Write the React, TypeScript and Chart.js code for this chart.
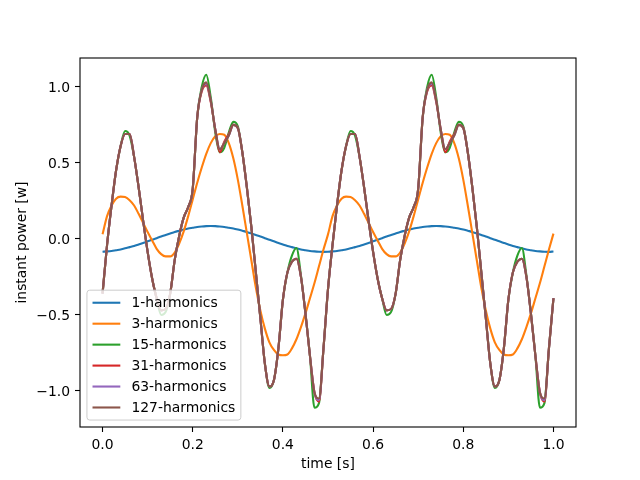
import { useEffect, useRef } from "react"
import { Chart, registerables } from "chart.js"

Chart.register(...registerables)

// sample times [s]
const time = [
  0.0, 0.01, 0.02, 0.03, 0.04, 0.05, 0.06, 0.07, 0.08, 0.09,
  0.1, 0.11, 0.12, 0.13, 0.14, 0.15, 0.16, 0.17, 0.18, 0.19,
  0.2, 0.21, 0.22, 0.23, 0.24, 0.25, 0.26, 0.27, 0.28, 0.29,
  0.3, 0.31, 0.32, 0.33, 0.34, 0.35, 0.36, 0.37, 0.38, 0.39,
  0.4, 0.41, 0.42, 0.43, 0.44, 0.45, 0.46, 0.47, 0.48, 0.49,
  0.5, 0.51, 0.52, 0.53, 0.54, 0.55, 0.56, 0.57, 0.58, 0.59,
  0.6, 0.61, 0.62, 0.63, 0.64, 0.65, 0.66, 0.67, 0.68, 0.69,
  0.7, 0.71, 0.72, 0.73, 0.74, 0.75, 0.76, 0.77, 0.78, 0.79,
  0.8, 0.81, 0.82, 0.83, 0.84, 0.85, 0.86, 0.87, 0.88, 0.89,
  0.9, 0.91, 0.92, 0.93, 0.94, 0.95, 0.96, 0.97, 0.98, 0.99,
  1.0,
]

const xTicks = [0.0, 0.2, 0.4, 0.6, 0.8, 1.0]
const yTicks = [-1.0, -0.5, 0.0, 0.5, 1.0]

const seriesLabels = ["1-harmonics", "3-harmonics", "15-harmonics", "31-harmonics", "63-harmonics", "127-harmonics"]

const harm1 = [
  -0.084, -0.082, -0.079, -0.074, -0.069, -0.062, -0.054, -0.046, -0.036, -0.026,
  -0.016, -0.005, 0.005, 0.016, 0.026, 0.036, 0.046, 0.054, 0.062, 0.069,
  0.074, 0.079, 0.082, 0.084, 0.085, 0.084, 0.082, 0.079, 0.074, 0.069,
  0.062, 0.054, 0.046, 0.036, 0.026, 0.016, 0.005, -0.005, -0.016, -0.026,
  -0.036, -0.046, -0.054, -0.062, -0.069, -0.074, -0.079, -0.082, -0.084, -0.085,
  -0.084, -0.082, -0.079, -0.074, -0.069, -0.062, -0.054, -0.046, -0.036, -0.026,
  -0.016, -0.005, 0.005, 0.016, 0.026, 0.036, 0.046, 0.054, 0.062, 0.069,
  0.074, 0.079, 0.082, 0.084, 0.085, 0.084, 0.082, 0.079, 0.074, 0.069,
  0.062, 0.054, 0.046, 0.036, 0.026, 0.016, 0.005, -0.005, -0.016, -0.026,
  -0.036, -0.046, -0.054, -0.062, -0.069, -0.074, -0.079, -0.082, -0.084, -0.085,
  -0.083,
]

const harm3 = [
  0.03, 0.15, 0.22, 0.265, 0.278, 0.275, 0.255, 0.22, 0.165, 0.105,
  0.045, -0.01, -0.065, -0.1, -0.115, -0.115, -0.09, -0.03, 0.05, 0.15,
  0.26, 0.37, 0.47, 0.56, 0.63, 0.675, 0.69, 0.685, 0.63, 0.53,
  0.39, 0.22, 0.04, -0.14, -0.32, -0.47, -0.59, -0.68, -0.73, -0.76,
  -0.765, -0.76, -0.72, -0.66, -0.58, -0.49, -0.39, -0.29, -0.18, -0.07,
  0.03, 0.15, 0.22, 0.265, 0.278, 0.275, 0.255, 0.22, 0.165, 0.105,
  0.045, -0.01, -0.065, -0.1, -0.115, -0.115, -0.09, -0.03, 0.05, 0.15,
  0.26, 0.37, 0.47, 0.56, 0.63, 0.675, 0.69, 0.685, 0.63, 0.53,
  0.39, 0.22, 0.04, -0.14, -0.32, -0.47, -0.59, -0.68, -0.73, -0.76,
  -0.765, -0.76, -0.72, -0.66, -0.58, -0.49, -0.39, -0.29, -0.18, -0.07,
  0.035,
]

const harm15 = [
  -0.36, -0.04, 0.22, 0.45, 0.61, 0.71, 0.68, 0.54, 0.34, 0.12,
  -0.085, -0.26, -0.39, -0.5, -0.48, -0.36, -0.14, 0.02, 0.14, 0.21,
  0.33, 0.8, 1.0, 1.08, 0.93, 0.7, 0.57, 0.6, 0.7, 0.77,
  0.74, 0.57, 0.34, 0.08, -0.22, -0.52, -0.82, -0.98, -0.93, -0.72,
  -0.4, -0.22, -0.11, -0.06, -0.24, -0.49, -0.77, -1.11, -1.08, -0.72,
  -0.33, -0.04, 0.22, 0.45, 0.61, 0.71, 0.68, 0.54, 0.34, 0.12,
  -0.085, -0.26, -0.39, -0.5, -0.48, -0.36, -0.14, 0.02, 0.14, 0.21,
  0.33, 0.8, 1.0, 1.08, 0.93, 0.7, 0.57, 0.6, 0.7, 0.77,
  0.74, 0.57, 0.34, 0.08, -0.22, -0.52, -0.82, -0.98, -0.93, -0.72,
  -0.4, -0.22, -0.11, -0.06, -0.24, -0.49, -0.77, -1.11, -1.08, -0.72,
  -0.39,
]

const harm31 = [
  -0.36, -0.04, 0.22, 0.45, 0.61, 0.69, 0.69, 0.54, 0.34, 0.12,
  -0.085, -0.26, -0.39, -0.47, -0.46, -0.36, -0.14, 0.02, 0.14, 0.21,
  0.33, 0.8, 0.97, 1.01, 0.9, 0.72, 0.57, 0.64, 0.69, 0.75,
  0.73, 0.57, 0.34, 0.08, -0.22, -0.52, -0.82, -0.97, -0.93, -0.72,
  -0.4, -0.22, -0.15, -0.13, -0.25, -0.49, -0.77, -1.01, -1.07, -0.72,
  -0.33, -0.04, 0.22, 0.45, 0.61, 0.69, 0.69, 0.54, 0.34, 0.12,
  -0.085, -0.26, -0.39, -0.47, -0.46, -0.36, -0.14, 0.02, 0.14, 0.21,
  0.33, 0.8, 0.97, 1.01, 0.9, 0.72, 0.57, 0.64, 0.69, 0.75,
  0.73, 0.57, 0.34, 0.08, -0.22, -0.52, -0.82, -0.97, -0.93, -0.72,
  -0.4, -0.22, -0.15, -0.13, -0.25, -0.49, -0.77, -1.01, -1.07, -0.72,
  -0.39,
]

const harm63 = [
  -0.36, -0.04, 0.22, 0.45, 0.61, 0.69, 0.69, 0.54, 0.34, 0.12,
  -0.085, -0.26, -0.39, -0.47, -0.46, -0.36, -0.14, 0.02, 0.14, 0.21,
  0.33, 0.8, 0.98, 1.02, 0.91, 0.72, 0.59, 0.63, 0.68, 0.75,
  0.73, 0.57, 0.34, 0.08, -0.22, -0.52, -0.82, -0.97, -0.93, -0.72,
  -0.4, -0.22, -0.15, -0.13, -0.25, -0.49, -0.77, -1.01, -1.06, -0.72,
  -0.33, -0.04, 0.22, 0.45, 0.61, 0.69, 0.69, 0.54, 0.34, 0.12,
  -0.085, -0.26, -0.39, -0.47, -0.46, -0.36, -0.14, 0.02, 0.14, 0.21,
  0.33, 0.8, 0.98, 1.02, 0.91, 0.72, 0.59, 0.63, 0.68, 0.75,
  0.73, 0.57, 0.34, 0.08, -0.22, -0.52, -0.82, -0.97, -0.93, -0.72,
  -0.4, -0.22, -0.15, -0.13, -0.25, -0.49, -0.77, -1.01, -1.06, -0.72,
  -0.39,
]

const harm127 = [
  -0.36, -0.04, 0.22, 0.45, 0.61, 0.69, 0.69, 0.54, 0.34, 0.12,
  -0.085, -0.26, -0.39, -0.47, -0.46, -0.36, -0.14, 0.02, 0.14, 0.21,
  0.33, 0.8, 0.98, 1.03, 0.91, 0.72, 0.59, 0.63, 0.68, 0.75,
  0.73, 0.57, 0.34, 0.08, -0.22, -0.52, -0.82, -0.97, -0.93, -0.72,
  -0.4, -0.22, -0.15, -0.13, -0.25, -0.49, -0.77, -1.01, -1.05, -0.72,
  -0.33, -0.04, 0.22, 0.45, 0.61, 0.69, 0.69, 0.54, 0.34, 0.12,
  -0.085, -0.26, -0.39, -0.47, -0.46, -0.36, -0.14, 0.02, 0.14, 0.21,
  0.33, 0.8, 0.98, 1.03, 0.91, 0.72, 0.59, 0.63, 0.68, 0.75,
  0.73, 0.57, 0.34, 0.08, -0.22, -0.52, -0.82, -0.97, -0.93, -0.72,
  -0.4, -0.22, -0.15, -0.13, -0.25, -0.49, -0.77, -1.01, -1.05, -0.72,
  -0.39,
]

const seriesValues = [harm1, harm3, harm15, harm31, harm63, harm127]
const seriesColors = ["#1f77b4", "#ff7f0e", "#2ca02c", "#d62728", "#9467bd", "#8c564b"]

const FONT = "'DejaVu Sans', sans-serif"
const FS = 13.9

const fmt = (v: number) => v.toFixed(1).replace("-", "\u2212")

// axes frame + matplotlib-style legend in the lower left of the plot
const frameAndLegend = {
  id: "frameAndLegend",
  afterDatasetsDraw(chart: any) {
    const { ctx, chartArea } = chart
    const { left, top, right, bottom } = chartArea
    ctx.save()
    ctx.strokeStyle = "#000"
    ctx.lineWidth = 1.1
    ctx.strokeRect(left, top, right - left, bottom - top)

    const em = FS
    const pad = 0.4 * em
    const handle = 2 * em
    const textPad = 0.8 * em
    const rowH = 14
    const gap = 0.5 * em
    ctx.font = `${FS}px ${FONT}`
    const datasets = chart.data.datasets
    const textW = Math.max(...datasets.map((d: any) => ctx.measureText(String(d.label)).width))
    const boxW = pad * 2 + handle + textPad + textW
    const boxH = pad * 2 + datasets.length * rowH + (datasets.length - 1) * gap
    const bx = left + 0.5 * em
    const by = bottom - 0.5 * em - boxH
    ctx.beginPath()
    ctx.roundRect(bx, by, boxW, boxH, 0.2 * em)
    ctx.fillStyle = "rgba(255,255,255,0.8)"
    ctx.fill()
    ctx.strokeStyle = "#cccccc"
    ctx.lineWidth = 1
    ctx.stroke()
    datasets.forEach((d: any, i: number) => {
      const cy = by + pad + i * (rowH + gap) + rowH / 2
      ctx.strokeStyle = d.borderColor
      ctx.lineWidth = 2.1
      ctx.beginPath()
      ctx.moveTo(bx + pad, cy)
      ctx.lineTo(bx + pad + handle, cy)
      ctx.stroke()
      ctx.fillStyle = "#000"
      ctx.textBaseline = "middle"
      ctx.textAlign = "left"
      ctx.fillText(String(d.label), bx + pad + handle + textPad, cy + 1)
    })
    ctx.restore()
  },
}

export default function App() {
  const chartRef = useRef<HTMLCanvasElement>(null)
  const chartInstance = useRef<Chart | null>(null)

  useEffect(() => {
    document.body.style.margin = "0"
    if (!chartRef.current) return
    const ctx = chartRef.current.getContext("2d")
    if (!ctx) return

    if (chartInstance.current) {
      chartInstance.current.destroy()
    }

    const datasets = seriesLabels.map((label, s) => ({
      label,
      data: time.map((t, i) => ({ x: t, y: seriesValues[s][i] })),
      borderColor: seriesColors[s],
      backgroundColor: seriesColors[s],
      borderWidth: 2.1,
      borderJoinStyle: "round" as const,
      pointRadius: 0,
      cubicInterpolationMode: "monotone" as const,
      fill: false,
      // first dataset at the bottom, last on top (like matplotlib)
      order: seriesLabels.length - 1 - s,
    }))

    const tickFont = { family: FONT, size: FS }

    chartInstance.current = new Chart(ctx, {
      type: "line",
      data: { datasets },
      plugins: [frameAndLegend],
      options: {
        responsive: false,
        animation: false,
        events: [],
        layout: { padding: { left: 0, top: 58, right: 64, bottom: 0 } },
        plugins: {
          legend: { display: false },
          tooltip: { enabled: false },
        },
        scales: {
          x: {
            type: "linear",
            min: -0.05,
            max: 1.05,
            afterBuildTicks: (axis: any) => {
              axis.ticks = xTicks.map((value) => ({ value }))
            },
            afterFit: (axis: any) => {
              axis.height = 53
            },
            grid: { display: true, drawOnChartArea: false, drawTicks: true, tickLength: 5, tickColor: "#000", tickWidth: 1.1 },
            border: { display: false },
            ticks: { color: "#000", font: tickFont, padding: 5, maxRotation: 0, callback: (v: any) => fmt(Number(v)) },
            title: { display: true, text: "time [s]", color: "#000", font: tickFont, padding: { top: 0, bottom: 7.6 } },
          },
          y: {
            type: "linear",
            min: -1.237,
            max: 1.19,
            afterBuildTicks: (axis: any) => {
              axis.ticks = yTicks.map((value) => ({ value }))
            },
            afterFit: (axis: any) => {
              axis.width = 80
            },
            grid: { display: true, drawOnChartArea: false, drawTicks: true, tickLength: 5, tickColor: "#000", tickWidth: 1.1 },
            border: { display: false },
            ticks: { color: "#000", font: tickFont, padding: 5, labelOffset: 1.5, callback: (v: any) => fmt(Number(v)) },
            title: { display: true, text: "instant power [w]", color: "#000", font: tickFont, padding: { top: 13.7, bottom: 0 } },
          },
        },
      },
    })

    return () => {
      if (chartInstance.current) {
        chartInstance.current.destroy()
        chartInstance.current = null
      }
    }
  }, [])

  return (
    <div style={{ position: "fixed", left: 0, top: 0, width: 640, height: 480, background: "#fff" }}>
      <canvas ref={chartRef} width={640} height={480}></canvas>
    </div>
  )
}
